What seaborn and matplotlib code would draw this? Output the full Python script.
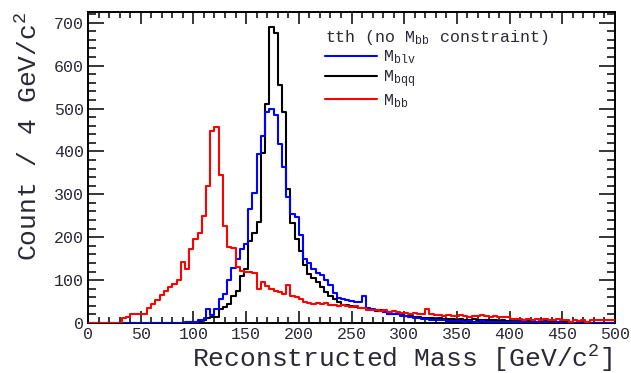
import numpy as np
import pandas as pd
import matplotlib
matplotlib.use("Agg")
import matplotlib.pyplot as plt
from matplotlib.lines import Line2D
from matplotlib.ticker import MultipleLocator
import seaborn as sns

# ---- data: counts per 4 GeV bin, bin lower edges 0..496 ----
bin_edges = list(range(0, 500, 4))

m_blv = [0, 0, 0, 0, 0, 0, 0, 0, 0, 0,
         0, 0, 0, 0, 0, 0, 0, 0, 0, 0,
         0, 0, 0, 2, 3, 3, 7, 7, 32, 19,
         32, 55, 68, 100, 128, 150, 172, 185, 266, 302,
         395, 436, 491, 499, 484, 418, 364, 293, 255, 247,
         205, 150, 140, 125, 117, 112, 100, 88, 70, 58,
         55, 53, 52, 50, 48, 62, 36, 32, 30, 28,
         25, 22, 20, 20, 17, 16, 14, 12, 11, 10,
         9, 8, 7, 6, 6, 5, 5, 4, 4, 3,
         4, 3, 3, 4, 2, 3, 3, 2, 3, 2,
         2, 3, 2, 2, 1, 2, 2, 1, 2, 1,
         1, 2, 1, 1, 1, 0, 1, 1, 0, 1,
         1, 0, 1, 0, 1]

m_bqq = [0, 0, 0, 0, 0, 0, 0, 0, 0, 0,
         0, 0, 0, 0, 0, 0, 0, 0, 0, 0,
         0, 0, 0, 0, 0, 2, 4, 8, 12, 14,
         14, 32, 38, 45, 62, 75, 110, 127, 190, 210,
         236, 397, 510, 691, 676, 555, 491, 312, 232, 196,
         169, 135, 115, 104, 95, 85, 73, 62, 56, 48,
         43, 42, 40, 38, 36, 35, 32, 30, 28, 30,
         26, 22, 22, 20, 18, 17, 16, 14, 13, 12,
         12, 11, 10, 11, 9, 10, 9, 8, 9, 8,
         7, 9, 7, 8, 6, 7, 6, 5, 7, 5,
         6, 5, 4, 6, 4, 5, 3, 4, 5, 3,
         4, 3, 2, 3, 2, 1, 2, 1, 2, 1,
         1, 0, 1, 0, 1]

m_bb = [0, 0, 0, 0, 0, 0, 0, 0, 11, 13,
        20, 20, 21, 21, 34, 44, 54, 65, 75, 83,
        92, 100, 142, 125, 173, 195, 210, 250, 320, 448,
        457, 345, 225, 178, 176, 130, 122, 120, 118, 116,
        80, 96, 86, 80, 74, 72, 68, 88, 64, 60,
        56, 48, 46, 44, 46, 44, 46, 42, 42, 40,
        42, 40, 38, 40, 36, 34, 30, 31, 30, 28,
        30, 26, 28, 25, 24, 23, 22, 23, 20, 21,
        32, 20, 18, 19, 17, 18, 16, 17, 18, 16,
        15, 17, 16, 19, 17, 15, 16, 14, 15, 13,
        10, 9, 10, 8, 9, 8, 9, 8, 9, 8,
        7, 9, 8, 8, 3, 8, 4, 7, 3, 8,
        7, 8, 7, 8, 8]

series_labels = [r"M$_{\rm blv}$", r"M$_{\rm bqq}$", r"M$_{\rm bb}$"]
legend_title = r"tth (no M$_{\rm bb}$ constraint)"
x_label = r"Reconstructed Mass [GeV/c$^{2}$]"
y_label = r"Count / 4 GeV/c$^{2}$"

# ---- style ----
sns.set_style("ticks")
plt.rcParams["font.family"] = ["Liberation Mono", "DejaVu Sans Mono"]
plt.rcParams["mathtext.fontset"] = "custom"
plt.rcParams["mathtext.rm"] = "Liberation Mono"
plt.rcParams["mathtext.it"] = "Liberation Mono"
plt.rcParams["mathtext.bf"] = "Liberation Mono:bold"
txt_col = "#2a2a35"

fig = plt.figure(figsize=(6.31, 3.73), dpi=100)
ax = fig.add_axes([88 / 631, 50 / 373, 527 / 631, 311 / 373])

centers = [e + 2.0 for e in bin_edges]

for vals, col, z in [(m_bqq, "black", 2), (m_blv, "#0000ff", 3), (m_bb, "#ff0000", 4)]:
    df = pd.DataFrame({"mass": centers, "count": [float(v) for v in vals]})
    sns.histplot(data=df, x="mass", weights="count", binwidth=4, binrange=(0, 500),
                 element="step", fill=False, color=col, linewidth=1.5,
                 ax=ax, zorder=z)

ax.set_xlim(0, 500)
ax.set_ylim(0, 725)

ax.xaxis.set_major_locator(MultipleLocator(50))
ax.xaxis.set_minor_locator(MultipleLocator(10))
ax.yaxis.set_major_locator(MultipleLocator(100))
ax.yaxis.set_minor_locator(MultipleLocator(20))

for s in ax.spines.values():
    s.set_visible(True)
    s.set_linewidth(1.4)
    s.set_color("black")

ax.tick_params(axis="both", which="both", direction="in", top=True, right=True,
               color="black", width=1.1, labelcolor=txt_col, labelsize=12)
ax.tick_params(axis="y", which="major", length=11.5, pad=3)
ax.tick_params(axis="y", which="minor", length=5.8)
ax.tick_params(axis="x", which="major", length=8.6, pad=3)
ax.tick_params(axis="x", which="minor", length=4)

ax.set_xlabel(x_label, fontsize=19, color=txt_col, loc="right")
ax.set_ylabel(y_label, fontsize=19, color=txt_col, loc="top")
ax.xaxis.set_label_coords(0.995, -0.064)
ax.yaxis.set_label_coords(-0.087, 1.0)

handles = [Line2D([], [], color="#0000ff", lw=1.5),
           Line2D([], [], color="black", lw=1.5),
           Line2D([], [], color="#ff0000", lw=1.5)]
leg = ax.legend(handles, series_labels, title=legend_title, loc="upper left",
                bbox_to_anchor=(0.45, 0.95), frameon=False, fontsize=12,
                title_fontsize=12, handlelength=3.1, handletextpad=0.36,
                labelspacing=0.12, borderpad=0, borderaxespad=0, alignment="left")
for t in leg.get_texts():
    t.set_color(txt_col)
leg.get_title().set_color(txt_col)

fig.savefig("out.png", dpi=100)
